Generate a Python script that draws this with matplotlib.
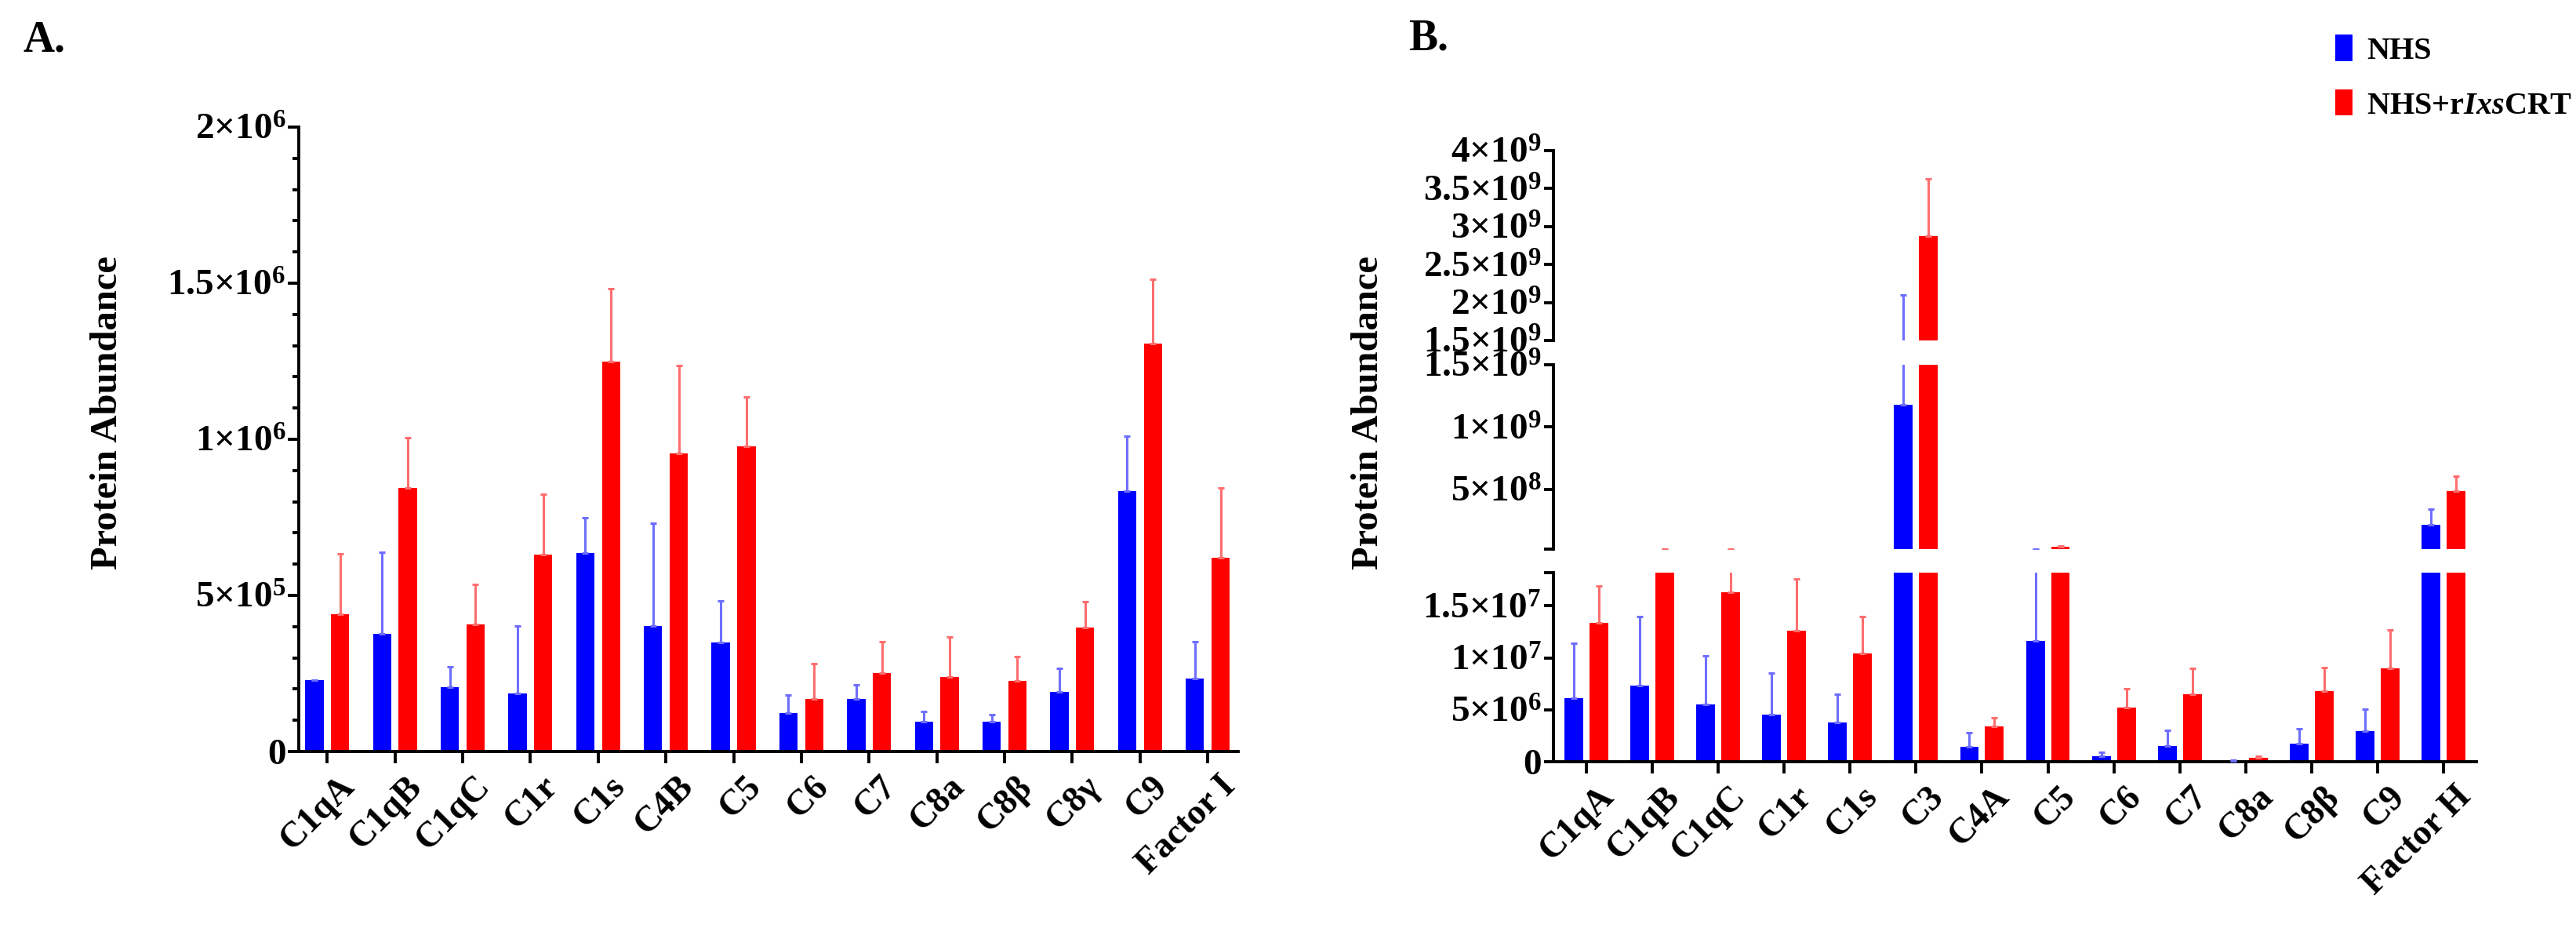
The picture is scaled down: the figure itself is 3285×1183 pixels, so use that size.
import matplotlib
matplotlib.use("Agg")
import matplotlib.pyplot as plt
import matplotlib.transforms as mtransforms
from matplotlib.patches import Patch
import numpy as np

# ---------------- data ----------------
A_cats = ['C1qA', 'C1qB', 'C1qC', 'C1r', 'C1s', 'C4B', 'C5', 'C6', 'C7', 'C8a', 'C8β', 'C8γ', 'C9', 'Factor I']
A_nhs = [229e3, 378e3, 206e3, 187e3, 635e3, 401e3, 349e3, 124e3, 168e3, 95e3, 95e3, 191e3, 834e3, 233e3]
A_nhs_err = [0, 261e3, 65e3, 214e3, 113e3, 330e3, 134e3, 57e3, 46e3, 33e3, 23e3, 76e3, 177e3, 120e3]
A_crt = [439e3, 843e3, 406e3, 630e3, 1250e3, 954e3, 977e3, 168e3, 252e3, 238e3, 225e3, 397e3, 1307e3, 620e3]
A_crt_err = [194e3, 162e3, 128e3, 194e3, 232e3, 282e3, 158e3, 114e3, 101e3, 130e3, 80e3, 84e3, 206e3, 223e3]
A_yticks = [0, 5e5, 1e6, 1.5e6, 2e6]
A_yticklabels = ['0', r'$5{\times}10^{5}$', r'$1{\times}10^{6}$', r'$1.5{\times}10^{6}$', r'$2{\times}10^{6}$']

B_cats = ['C1qA', 'C1qB', 'C1qC', 'C1r', 'C1s', 'C3', 'C4A', 'C5', 'C6', 'C7', 'C8a', 'C8β', 'C9', 'Factor H']
B_nhs = [6.1e6, 7.3e6, 5.5e6, 4.5e6, 3.8e6, 1.18e9, 1.4e6, 11.65e6, 0.5e6, 1.5e6, 0.1e6, 1.7e6, 2.95e6, 2.15e8]
B_nhs_err = [5.3e6, 6.7e6, 4.7e6, 4.0e6, 2.7e6, 0.92e9, 1.4e6, 8.6e6, 0.4e6, 1.55e6, 0.05e6, 1.5e6, 2.1e6, 1.29e8]
B_crt = [13.35e6, 19.0e6, 16.3e6, 12.6e6, 10.45e6, 2.87e9, 3.4e6, 4.0e7, 5.2e6, 6.5e6, 0.4e6, 6.8e6, 9.0e6, 4.86e8]
B_crt_err = [3.55e6, 2.0e6, 4.2e6, 5.0e6, 3.55e6, 0.76e9, 0.86e6, 0.3e7, 1.85e6, 2.5e6, 0.1e6, 2.3e6, 3.7e6, 1.19e8]

B_upper_ticks = [1.5e9, 2e9, 2.5e9, 3e9, 3.5e9, 4e9]
B_upper_labels = [r'$1.5{\times}10^{9}$', r'$2{\times}10^{9}$', r'$2.5{\times}10^{9}$', r'$3{\times}10^{9}$',
                  r'$3.5{\times}10^{9}$', r'$4{\times}10^{9}$']
B_middle_ticks = [2e7, 5e8, 1e9, 1.5e9]
B_middle_labels = ['', r'$5{\times}10^{8}$', r'$1{\times}10^{9}$', r'$1.5{\times}10^{9}$']
B_lower_ticks = [0, 5e6, 1e7, 1.5e7, 1.82e7]
B_lower_labels = ['0', r'$5{\times}10^{6}$', r'$1{\times}10^{7}$', r'$1.5{\times}10^{7}$', '']

series_names = ['NHS', r'NHS+r$\mathit{Ixs}$CRT']
colors = ['#0000FF', '#FF0000']
err_colors = ['#6E6EFF', '#FF6E6E']

# ---------------- style ----------------
plt.rcParams.update({
    'font.family': 'Liberation Serif',
    'font.weight': 'bold',
    'mathtext.fontset': 'custom',
    'mathtext.rm': 'Liberation Serif:bold',
    'mathtext.bf': 'Liberation Serif:bold',
    'mathtext.it': 'Liberation Serif:italic:bold',
})

W, H = 3285, 1183
fig = plt.figure(figsize=(W / 100, H / 100), dpi=100)

def rect(x0, y0, x1, y1):
    return [x0 / W, 1 - y1 / H, (x1 - x0) / W, (y1 - y0) / H]

SPINE = 2.8
TICKFS = 34
XTFS = 33
OFF = 0.19
BW_A = 0.27
BW_B = 0.285


def draw_bars(ax, n1, e1, n2, e2, bw, ymin=None):
    x = np.arange(len(n1))
    for xs, v, e, c, ec in [(x - OFF, n1, e1, colors[0], err_colors[0]),
                            (x + OFF, n2, e2, colors[1], err_colors[1])]:
        v = np.asarray(v, float)
        e = np.asarray(e, float)
        ax.bar(xs, v, width=bw, color=c, edgecolor='none', zorder=2)
        keep = np.ones(len(v), bool) if ymin is None else (v + e) >= ymin
        ax.errorbar(xs[keep], v[keep], yerr=[np.zeros(keep.sum()), e[keep]], fmt='none', ecolor=ec,
                    elinewidth=2.2, capsize=3, capthick=2.2, zorder=3)


def style_left(ax):
    for s in ['top', 'right']:
        ax.spines[s].set_visible(False)
    ax.spines['left'].set_linewidth(SPINE)
    ax.spines['bottom'].set_linewidth(SPINE)
    ax.tick_params(axis='y', which='major', length=10, width=SPINE, labelsize=TICKFS, pad=2)
    ax.tick_params(axis='y', which='minor', length=6, width=SPINE)


def xlabels(ax, cats):
    ax.set_xticks(np.arange(len(cats)))
    ax.set_xticklabels(cats, rotation=45, ha='right', va='top', rotation_mode='anchor', fontsize=XTFS)
    ax.tick_params(axis='x', length=11, width=SPINE, pad=6)
    shift = mtransforms.ScaledTranslation(14 / 100, 0, fig.dpi_scale_trans)
    for lab in ax.get_xticklabels():
        lab.set_transform(lab.get_transform() + shift)


# ---------------- Panel A ----------------
axA = fig.add_axes(rect(381, 162, 1579, 958))
draw_bars(axA, A_nhs, A_nhs_err, A_crt, A_crt_err, BW_A)
axA.set_xlim(-0.42, 13.45)
axA.set_ylim(0, 2e6)
style_left(axA)
axA.set_yticks(A_yticks)
axA.set_yticklabels(A_yticklabels)
axA.set_yticks(np.arange(0, 2e6 + 1, 1e5), minor=True)
xlabels(axA, A_cats)
fig.text(137 / W, 1 - 526 / H, 'Protein Abundance', rotation=90, ha='center', va='center',
         fontsize=35, fontweight='bold')
fig.text(30 / W, 1 - 66 / H, 'A.', fontsize=40, fontweight='bold', ha='left', va='baseline')

# ---------------- Panel B (broken axis) ----------------
xl, xr = 1981, 3158
axU = fig.add_axes(rect(xl, 192, xr, 434))
axM = fig.add_axes(rect(xl, 465, xr, 700))
axL = fig.add_axes(rect(xl, 730, xr, 971))
lims = [(1.5e9, 4e9), (2e7, 1.5e9), (0, 1.82e7)]
ticks = [B_upper_ticks, B_middle_ticks, B_lower_ticks]
labels = [B_upper_labels, B_middle_labels, B_lower_labels]
for ax, lim, tk, lb in zip([axU, axM, axL], lims, ticks, labels):
    draw_bars(ax, B_nhs, B_nhs_err, B_crt, B_crt_err, BW_B, ymin=lim[0])
    ax.set_xlim(-0.5, 13.5)
    ax.set_ylim(*lim)
    style_left(ax)
    ax.set_yticks(tk)
    ax.set_yticklabels(lb)
    ax.yaxis.set_minor_locator(matplotlib.ticker.NullLocator())
    ax.tick_params(axis='y', length=9)
    if ax is not axL:
        ax.spines['bottom'].set_visible(False)
        ax.set_xticks([])
xlabels(axL, B_cats)
fig.text(1745 / W, 1 - 526 / H, 'Protein Abundance', rotation=90, ha='center', va='center',
         fontsize=35, fontweight='bold')
fig.text(1796 / W, 1 - 64 / H, 'B.', fontsize=40, fontweight='bold', ha='left', va='baseline')

handles = [Patch(facecolor=c, edgecolor='none') for c in colors]
fig.legend(handles, series_names, loc='upper left', bbox_to_anchor=(2962 / W, 1 - 28 / H),
           frameon=False, fontsize=29, handlelength=0.55, handleheight=0.9,
           handletextpad=0.45, labelspacing=0.75, borderaxespad=0)

fig.savefig('out.png', dpi=100, facecolor='white')
